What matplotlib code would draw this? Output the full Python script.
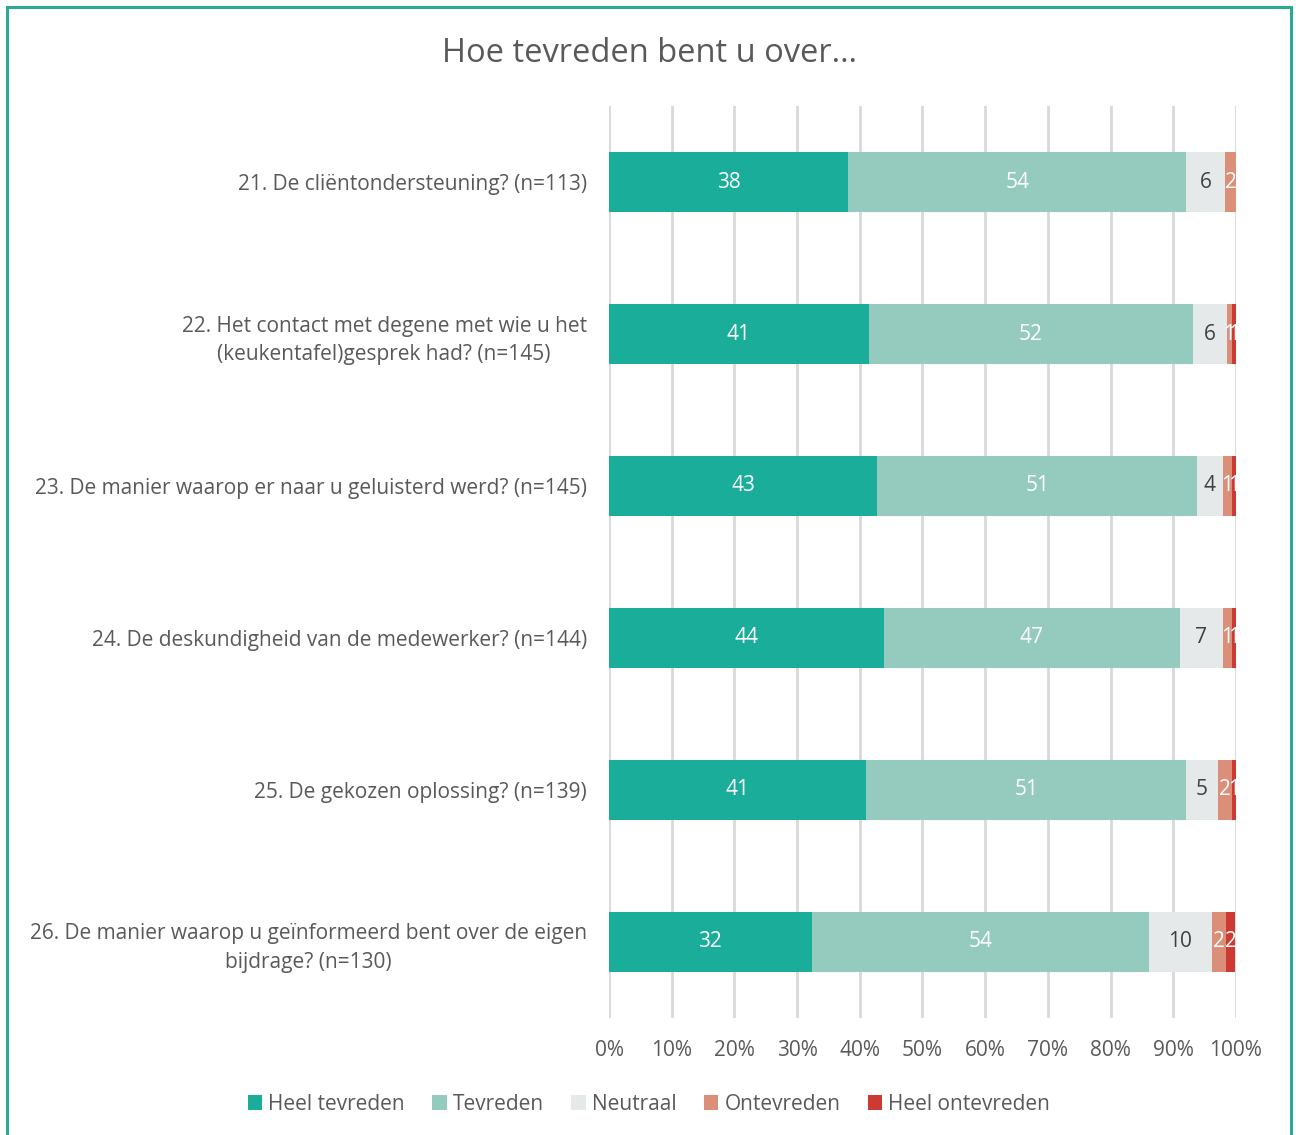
import matplotlib.pyplot as plt
from matplotlib.patches import Rectangle
import numpy as np

plt.rcParams['font.family'] = ['Open Sans', 'DejaVu Sans']

# vragen (van boven naar beneden)
vragen = [
    '21. De cliëntondersteuning? (n=113)',
    '22. Het contact met degene met wie u het\n(keukentafel)gesprek had? (n=145)',
    '23. De manier waarop er naar u geluisterd werd? (n=145)',
    '24. De deskundigheid van de medewerker? (n=144)',
    '25. De gekozen oplossing? (n=139)',
    '26. De manier waarop u geïnformeerd bent over de eigen\nbijdrage? (n=130)',
]

# percentages per antwoordcategorie
heel_tevreden = [38.1, 41.4, 42.8, 43.8, 41.0, 32.3]
tevreden = [54.0, 51.7, 51.0, 47.2, 51.1, 53.8]
neutraal = [6.2, 5.5, 4.1, 6.9, 5.0, 10.0]
ontevreden = [1.8, 0.7, 1.4, 1.4, 2.2, 2.3]
heel_ontevreden = [0.0, 0.7, 0.7, 0.7, 0.7, 1.5]

reeksen = ['Heel tevreden', 'Tevreden', 'Neutraal', 'Ontevreden', 'Heel ontevreden']
kleuren = ['#1AAE9A', '#95CBBF', '#E6E9E9', '#DB8E78', '#CC3A31']
tekstkleur = ['white', 'white', '#404040', 'white', 'white']

data = [heel_tevreden, tevreden, neutraal, ontevreden, heel_ontevreden]

fig = plt.figure(figsize=(12.98, 11.35), dpi=100)
ax = fig.add_axes([0.4692, 0.1031, 0.4830, 0.8035])

# kader rond de figuur
fig.patches.append(Rectangle((0.0054, -0.01), 0.9892, 1.0038, transform=fig.transFigure,
                             fill=False, edgecolor='#2BAA92', linewidth=2.2))

y = np.arange(len(vragen))
links = np.zeros(len(vragen))
for waarden, naam, kleur, tk in zip(data, reeksen, kleuren, tekstkleur):
    waarden = np.array(waarden)
    ax.barh(y, waarden, left=links, height=0.395, color=kleur, label=naam, zorder=3)
    for i, w in enumerate(waarden):
        if round(w) > 0:
            ax.text(links[i] + w / 2, y[i], f'{round(w)}', ha='center', va='center',
                    color=tk, fontsize=15, zorder=4)
    links += waarden

ax.set_xlim(0, 100)
ax.set_ylim(len(vragen) - 0.5, -0.5)
ax.set_xticks(np.arange(0, 101, 10))
ax.set_xticklabels([f'{t}%' for t in range(0, 101, 10)])
ax.set_yticks(y)
ax.set_yticklabels(vragen, multialignment='center', linespacing=1.45)
ax.tick_params(axis='both', length=0, labelsize=15, labelcolor='#595959')
ax.tick_params(axis='y', pad=16)
ax.tick_params(axis='x', pad=16)
ax.grid(axis='x', color='#D9D9D9', linewidth=2, zorder=0)
for s in ax.spines.values():
    s.set_visible(False)

fig.text(0.5, 0.953, 'Hoe tevreden bent u over…', ha='center', va='center',
         fontsize=23.5, color='#595959')

fig.legend(loc='center', bbox_to_anchor=(0.5, 0.027), ncol=5, frameon=False,
           fontsize=15, labelcolor='#595959', handlelength=0.7, handleheight=0.7,
           handletextpad=0.3, columnspacing=1.3)

fig.savefig('out.png', dpi=100)
